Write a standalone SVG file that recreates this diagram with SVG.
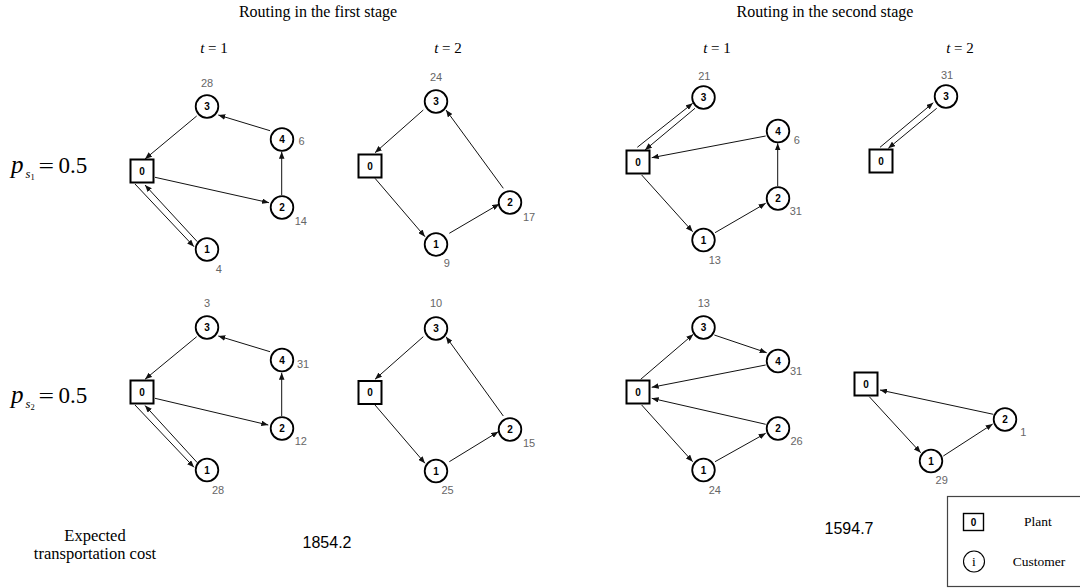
<svg xmlns="http://www.w3.org/2000/svg" width="1080" height="588" viewBox="0 0 1080 588">
  <style>
    .title { font-family: "Liberation Serif", "Times New Roman", serif; font-size: 16px; fill: #000; text-anchor: middle; }
    .label { font-family: "Liberation Serif", "Times New Roman", serif; font-size: 16.5px; fill: #000; text-anchor: middle; }
    .period { font-family: "Liberation Serif", "Times New Roman", serif; font-size: 15px; fill: #000; text-anchor: middle; }
    .prob { font-family: "Liberation Serif", "Times New Roman", serif; fill: #000; }
    .plant { fill: #fff; stroke: #000; stroke-width: 2; }
    .cust { fill: #fff; stroke: #000; stroke-width: 1.8; }
    .id { font-family: "Liberation Sans", Arial, sans-serif; font-size: 10px; font-weight: bold; fill: #000; text-anchor: middle; }
    .dem { font-family: "Liberation Sans", Arial, sans-serif; font-size: 11px; fill: #666; text-anchor: middle; }
    .cost { font-family: "Liberation Sans", Arial, sans-serif; font-size: 16px; fill: #000; text-anchor: middle; }
    .legend { font-family: "Liberation Serif", "Times New Roman", serif; font-size: 13.5px; fill: #000; text-anchor: middle; }
    .edges line { stroke: #111; stroke-width: 1; fill: none; marker-end: url(#arrow); }
  </style>
  <defs>
    <marker id="arrow" viewBox="0 0 10 8" refX="10" refY="4" markerWidth="7" markerHeight="5.6" markerUnits="userSpaceOnUse" orient="auto">
      <path d="M0,0 L10,4 L0,8 z" fill="#111"/>
    </marker>
  </defs>

  <rect width="1080" height="588" fill="#fff"/>

  <!-- headings -->
  <text class="title" x="318" y="17">Routing in the first stage</text>
  <text class="title" x="825" y="17">Routing in the second stage</text>
  <text class="period" x="214" y="53"><tspan font-style="italic">t</tspan> = 1</text>
  <text class="period" x="448" y="53"><tspan font-style="italic">t</tspan> = 2</text>
  <text class="period" x="717" y="53"><tspan font-style="italic">t</tspan> = 1</text>
  <text class="period" x="960" y="53"><tspan font-style="italic">t</tspan> = 2</text>

  <!-- scenario probabilities -->
  <g class="prob">
    <text x="11" y="173" font-size="25" font-style="italic">p</text>
    <text x="25.5" y="177.5" font-size="12.5" font-style="italic">s</text>
    <text x="30.5" y="180" font-size="8.5">1</text>
    <text x="38.5" y="173" font-size="22" textLength="15.5" lengthAdjust="spacingAndGlyphs">=</text>
    <text x="58.5" y="173" font-size="23">0.5</text>
    <text x="11" y="403" font-size="25" font-style="italic">p</text>
    <text x="25.5" y="407.5" font-size="12.5" font-style="italic">s</text>
    <text x="30.5" y="410" font-size="8.5">2</text>
    <text x="38.5" y="403" font-size="22" textLength="15.5" lengthAdjust="spacingAndGlyphs">=</text>
    <text x="58.5" y="403" font-size="23">0.5</text>
  </g>

  <!-- connectors -->
  <g id="connectors" class="edges">
    <!-- first stage, t=1, scenario 1 -->
    <line x1="196.7" y1="116" x2="145" y2="159"/>
    <line x1="270" y1="130.7" x2="218.3" y2="115"/>
    <line x1="155" y1="177.3" x2="269" y2="202.7"/>
    <line x1="281.7" y1="195" x2="281.7" y2="151.7"/>
    <line x1="135" y1="184" x2="194" y2="246.7"/>
    <line x1="197.3" y1="241.7" x2="145" y2="185"/>
    <!-- first stage, t=2, scenario 1 -->
    <line x1="423.3" y1="110" x2="375" y2="152.7"/>
    <line x1="375" y1="178.3" x2="425" y2="236.7"/>
    <line x1="449.3" y1="233.3" x2="499.3" y2="204"/>
    <line x1="503.3" y1="188.3" x2="446" y2="110"/>
    <!-- second stage, t=1, scenario 1 -->
    <line x1="637.3" y1="147.3" x2="692.7" y2="103.3"/>
    <line x1="695" y1="108.3" x2="645" y2="150"/>
    <line x1="765.7" y1="136" x2="651.7" y2="157.7"/>
    <line x1="641.7" y1="175" x2="692.7" y2="231.7"/>
    <line x1="715" y1="232.7" x2="765.7" y2="203.3"/>
    <line x1="777.7" y1="186" x2="777.7" y2="143.3"/>
    <!-- second stage, t=2, scenario 1 -->
    <line x1="880" y1="147.3" x2="933.3" y2="102.7"/>
    <line x1="936.7" y1="108.3" x2="888.3" y2="148.3"/>
    <!-- first stage, t=1, scenario 2 -->
    <line x1="196.7" y1="336.7" x2="145" y2="379.3"/>
    <line x1="270" y1="351.7" x2="218.3" y2="336"/>
    <line x1="155" y1="398.3" x2="268.3" y2="425"/>
    <line x1="281.7" y1="416" x2="281.7" y2="372.7"/>
    <line x1="135" y1="405" x2="194" y2="467.3"/>
    <line x1="197.3" y1="462.7" x2="145" y2="405.5"/>
    <!-- first stage, t=2, scenario 2 -->
    <line x1="423.3" y1="336.7" x2="375" y2="379.3"/>
    <line x1="375" y1="405" x2="425" y2="463.3"/>
    <line x1="449.3" y1="461.7" x2="498.3" y2="431.7"/>
    <line x1="503.3" y1="416" x2="446" y2="336.7"/>
    <!-- second stage, t=1, scenario 2 -->
    <line x1="640.7" y1="379.3" x2="693.3" y2="334.3"/>
    <line x1="714.3" y1="335" x2="766.7" y2="352.7"/>
    <line x1="765.7" y1="365" x2="651.7" y2="387.3"/>
    <line x1="765.7" y1="424.3" x2="651.7" y2="398.3"/>
    <line x1="641.7" y1="405" x2="692.7" y2="461.7"/>
    <line x1="715" y1="461.7" x2="765.7" y2="433.3"/>
    <!-- second stage, t=2, scenario 2 -->
    <line x1="869.3" y1="396.7" x2="920.7" y2="452.7"/>
    <line x1="943.3" y1="456" x2="992.7" y2="424"/>
    <line x1="993.3" y1="414.3" x2="880" y2="390"/>
  </g>

  <!-- first stage, t=1, scenario 1 -->
  <g id="a-plant0"><rect class="plant" x="130.5" y="159.5" width="23" height="23"/><text class="id" x="142" y="174.5">0</text></g>
  <g id="a-cust3"><circle class="cust" cx="207" cy="106.5" r="11.3"/><text class="id" x="207" y="110">3</text><text class="dem" x="207" y="87">28</text></g>
  <g id="a-cust4"><circle class="cust" cx="282" cy="139.5" r="11.3"/><text class="id" x="282" y="143">4</text><text class="dem" x="301.5" y="145">6</text></g>
  <g id="a-cust2"><circle class="cust" cx="282" cy="207.5" r="11.3"/><text class="id" x="282" y="211">2</text><text class="dem" x="300.8" y="225">14</text></g>
  <g id="a-cust1"><circle class="cust" cx="207" cy="249.5" r="11.3"/><text class="id" x="207" y="253">1</text><text class="dem" x="218.7" y="272.7">4</text></g>

  <!-- first stage, t=2, scenario 1 -->
  <g id="b-plant0"><rect class="plant" x="358.5" y="154.5" width="23" height="23"/><text class="id" x="370" y="169.5">0</text></g>
  <g id="b-cust3"><circle class="cust" cx="436" cy="101.5" r="11.3"/><text class="id" x="436" y="105">3</text><text class="dem" x="436" y="80.7">24</text></g>
  <g id="b-cust2"><circle class="cust" cx="510" cy="202.5" r="11.3"/><text class="id" x="510" y="206">2</text><text class="dem" x="529" y="221">17</text></g>
  <g id="b-cust1"><circle class="cust" cx="436" cy="244.5" r="11.3"/><text class="id" x="436" y="248">1</text><text class="dem" x="446.7" y="266.7">9</text></g>

  <!-- second stage, t=1, scenario 1 -->
  <g id="c-plant0"><rect class="plant" x="626.5" y="150.5" width="23" height="23"/><text class="id" x="638" y="165.5">0</text></g>
  <g id="c-cust3"><circle class="cust" cx="703.5" cy="97.5" r="11.3"/><text class="id" x="703.5" y="101">3</text><text class="dem" x="704.3" y="80">21</text></g>
  <g id="c-cust4"><circle class="cust" cx="778" cy="131" r="11.3"/><text class="id" x="778" y="134.5">4</text><text class="dem" x="796.7" y="144.3">6</text></g>
  <g id="c-cust2"><circle class="cust" cx="778" cy="198.5" r="11.3"/><text class="id" x="778" y="202">2</text><text class="dem" x="795.8" y="215">31</text></g>
  <g id="c-cust1"><circle class="cust" cx="703.5" cy="240" r="11.3"/><text class="id" x="703.5" y="243.5">1</text><text class="dem" x="714.8" y="263.7">13</text></g>

  <!-- second stage, t=2, scenario 1 -->
  <g id="d-plant0"><rect class="plant" x="869.5" y="149.5" width="23" height="23"/><text class="id" x="881" y="164.5">0</text></g>
  <g id="d-cust3"><circle class="cust" cx="946" cy="96.5" r="11.3"/><text class="id" x="946" y="100">3</text><text class="dem" x="947" y="79.3">31</text></g>

  <!-- first stage, t=1, scenario 2 -->
  <g id="e-plant0"><rect class="plant" x="130.5" y="380.5" width="23" height="23"/><text class="id" x="142" y="395.5">0</text></g>
  <g id="e-cust3"><circle class="cust" cx="207" cy="327.5" r="11.3"/><text class="id" x="207" y="331">3</text><text class="dem" x="207" y="307.3">3</text></g>
  <g id="e-cust4"><circle class="cust" cx="282" cy="360" r="11.3"/><text class="id" x="282" y="363.5">4</text><text class="dem" x="303" y="368.3">31</text></g>
  <g id="e-cust2"><circle class="cust" cx="282" cy="428.5" r="11.3"/><text class="id" x="282" y="432">2</text><text class="dem" x="300.8" y="445">12</text></g>
  <g id="e-cust1"><circle class="cust" cx="207" cy="470" r="11.3"/><text class="id" x="207" y="473.5">1</text><text class="dem" x="218" y="493.7">28</text></g>

  <!-- first stage, t=2, scenario 2 -->
  <g id="f-plant0"><rect class="plant" x="358.5" y="381" width="23" height="23"/><text class="id" x="370" y="396">0</text></g>
  <g id="f-cust3"><circle class="cust" cx="436" cy="328.5" r="11.3"/><text class="id" x="436" y="332">3</text><text class="dem" x="436" y="307.3">10</text></g>
  <g id="f-cust2"><circle class="cust" cx="510" cy="429.5" r="11.3"/><text class="id" x="510" y="433">2</text><text class="dem" x="529" y="446.7">15</text></g>
  <g id="f-cust1"><circle class="cust" cx="436" cy="471" r="11.3"/><text class="id" x="436" y="474.5">1</text><text class="dem" x="447.5" y="493.7">25</text></g>

  <!-- second stage, t=1, scenario 2 -->
  <g id="g-plant0"><rect class="plant" x="626.5" y="380.5" width="23" height="23"/><text class="id" x="638" y="395.5">0</text></g>
  <g id="g-cust3"><circle class="cust" cx="703.5" cy="327.5" r="11.3"/><text class="id" x="703.5" y="331">3</text><text class="dem" x="703.8" y="307.3">13</text></g>
  <g id="g-cust4"><circle class="cust" cx="778" cy="361" r="11.3"/><text class="id" x="778" y="364.5">4</text><text class="dem" x="796" y="375">31</text></g>
  <g id="g-cust2"><circle class="cust" cx="778" cy="428.5" r="11.3"/><text class="id" x="778" y="432">2</text><text class="dem" x="796.5" y="445">26</text></g>
  <g id="g-cust1"><circle class="cust" cx="703.5" cy="470" r="11.3"/><text class="id" x="703.5" y="473.5">1</text><text class="dem" x="714.8" y="493.7">24</text></g>

  <!-- second stage, t=2, scenario 2 -->
  <g id="h-plant0"><rect class="plant" x="854.5" y="372.5" width="23" height="23"/><text class="id" x="866" y="387.5">0</text></g>
  <g id="h-cust2"><circle class="cust" cx="1005" cy="419.5" r="11.3"/><text class="id" x="1005" y="423">2</text><text class="dem" x="1023.3" y="436">1</text></g>
  <g id="h-cust1"><circle class="cust" cx="931" cy="461" r="11.3"/><text class="id" x="931" y="464.5">1</text><text class="dem" x="941.7" y="484.3">29</text></g>

  <!-- expected cost row -->
  <text class="label" x="95" y="540.5">Expected</text>
  <text class="label" x="95" y="559">transportation cost</text>
  <text class="cost" x="327" y="547.5">1854.2</text>
  <text class="cost" x="849" y="534">1594.7</text>

  <!-- legend -->
  <g id="legend">
    <rect x="947.5" y="496.5" width="140" height="90" fill="#fff" stroke="#444" stroke-width="1.2"/>
    <rect x="963.5" y="513.5" width="20" height="17" fill="#fff" stroke="#000" stroke-width="1.4"/>
    <text class="id" x="973.5" y="525.5" font-weight="normal" font-size="9.5">0</text>
    <text class="legend" x="1038" y="526">Plant</text>
    <circle cx="974" cy="561.5" r="10.5" fill="#fff" stroke="#000" stroke-width="1.1"/>
    <text class="legend" x="974" y="565.5" font-size="11.5">i</text>
    <text class="legend" x="1039" y="565.5">Customer</text>
  </g>
</svg>
